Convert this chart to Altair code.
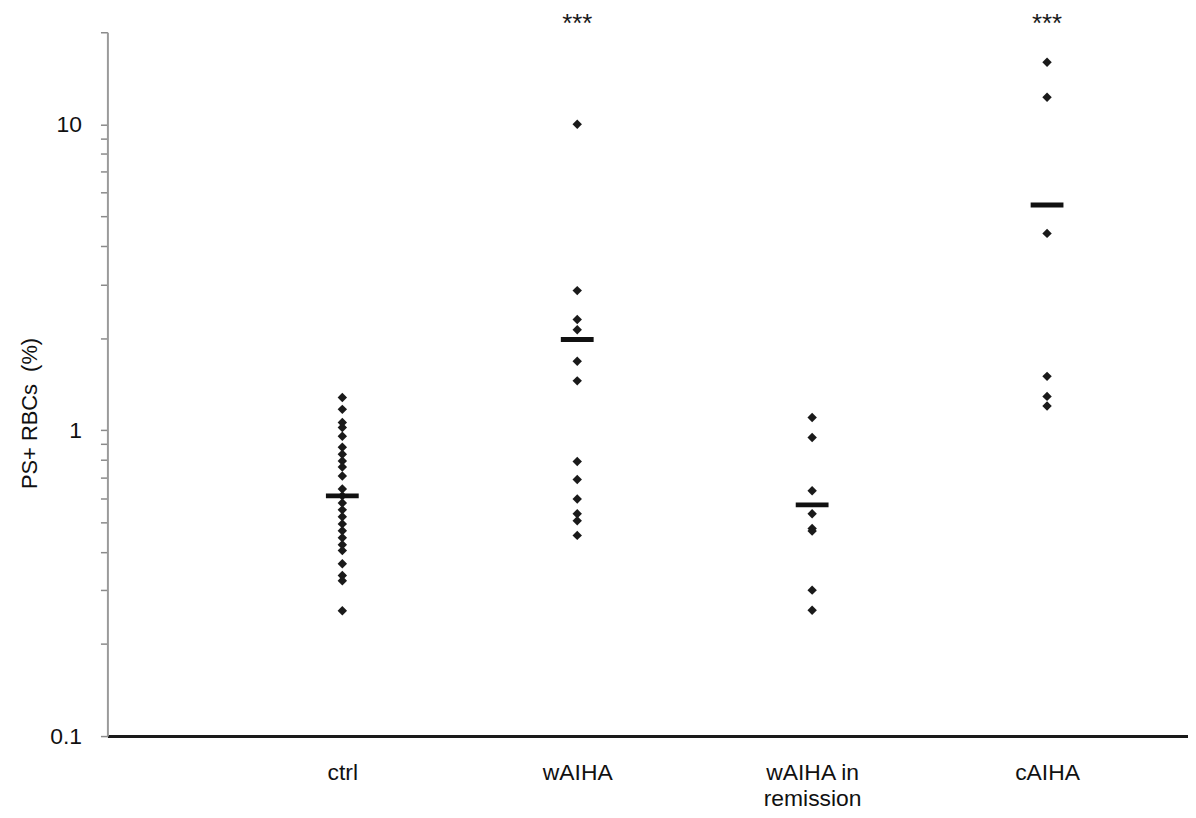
import altair as alt
import pandas as pd

groups = ["ctrl", "wAIHA", "wAIHA in remission", "cAIHA"]
group_pos = [1, 2, 3, 4]

ctrl_vals = [1.28, 1.17, 1.06, 1.02, 0.956, 0.88, 0.835, 0.793, 0.758, 0.708,
             0.642, 0.61, 0.578, 0.549, 0.521, 0.494, 0.469, 0.445, 0.422, 0.404,
             0.366, 0.335, 0.322, 0.257]
waiha_vals = [10.0, 2.86, 2.30, 2.13, 1.68, 1.45, 0.79, 0.69, 0.596, 0.533, 0.506, 0.453]
remission_vals = [1.10, 0.947, 0.634, 0.533, 0.477, 0.468, 0.30, 0.258]
caiha_vals = [15.96, 12.27, 4.40, 1.50, 1.29, 1.20]

means = [0.61, 1.98, 0.57, 5.45]
stars = ["", "***", "", "***"]

y_ticks = [0.1, 0.2, 0.3, 0.4, 0.5, 0.6, 0.7, 0.8, 0.9,
           1, 2, 3, 4, 5, 6, 7, 8, 9, 10, 20]
y_labels = [0.1, 1, 10]

rows = []
for pos, vals in zip(group_pos, [ctrl_vals, waiha_vals, remission_vals, caiha_vals]):
    for v in vals:
        rows.append({"pos": pos, "value": v})
points = pd.DataFrame(rows)
mean_df = pd.DataFrame({"pos": group_pos, "mean": means})
star_df = pd.DataFrame({"pos": group_pos, "star": stars})

# label expression built from the categories
expr_parts = []
for pos, g in zip(group_pos, groups):
    if g == "wAIHA in remission":
        lab = "['wAIHA in', 'remission']"
    else:
        lab = "'" + g + "'"
    expr_parts.append((pos, lab))
label_expr = ""
for pos, lab in expr_parts[:-1]:
    label_expr += f"datum.value == {pos} ? {lab} : "
label_expr += expr_parts[-1][1]

y_label_expr = " || ".join([f"abs(datum.value - {v}) < 1e-9" for v in y_labels])
y_label_expr = f"({y_label_expr}) ? format(datum.value, '~g') : ''"

FONT = "Liberation Sans"
X_SCALE = alt.Scale(domain=[0, 4.6], nice=False, zero=False)

x_enc = alt.X(
    "pos:Q",
    scale=X_SCALE,
    axis=alt.Axis(
        values=group_pos,
        labelExpr=label_expr,
        title=None,
        grid=False,
        ticks=False,
        domainColor="#1a1a1a",
        domainWidth=3,
        labelFont=FONT,
        labelFontSize=23,
        labelColor="#111111",
        labelPadding=26,
        labelLineHeight=26,
        labelBaseline="top",
    ),
)

y_scale = alt.Scale(type="log", domain=[0.1, 20], nice=False)

pts = alt.Chart(points).mark_point(
    shape="diamond", filled=True, size=90, color="#1a1a1a", opacity=1
).encode(
    x=x_enc,
    y=alt.Y(
        "value:Q",
        scale=y_scale,
        axis=alt.Axis(
            values=y_ticks,
            labelExpr=y_label_expr,
            title="PS+ RBCs\u00a0\u00a0(%)",
            titleFont=FONT,
            titleFontSize=22,
            titleFontWeight="normal",
            titleColor="#111111",
            titlePadding=8,
            titleY=383,
            grid=False,
            domainColor="#9a9a9a",
            domainWidth=2,
            tickColor="#8a8a8a",
            tickSize=7,
            tickWidth=1.5,
            labelFont=FONT,
            labelFontSize=23,
            labelColor="#111111",
            labelPadding=19,
            labelOverlap=False,
            labelFlush=False,
        ),
    ),
)

mean_ticks = alt.Chart(mean_df).mark_tick(
    orient="horizontal", size=33, thickness=5, color="#111111", opacity=1
).encode(
    x=alt.X("pos:Q", scale=X_SCALE),
    y=alt.Y("mean:Q", scale=y_scale),
)

star_text = alt.Chart(star_df).mark_text(
    font=FONT, fontSize=26, color="#1a1a1a", baseline="middle"
).encode(
    x=alt.X("pos:Q", scale=X_SCALE),
    y=alt.value(-8),
    text="star:N",
)

chart = alt.layer(pts, mean_ticks, star_text).properties(
    width=1087,
    height=708,
    background="white",
    autosize=alt.AutoSizeParams(type="none"),
    padding={"left": 100, "top": 22, "right": 0, "bottom": 80},
).configure_view(stroke=None)

chart.save("out.html", embed_options={"renderer": "svg", "actions": False})
